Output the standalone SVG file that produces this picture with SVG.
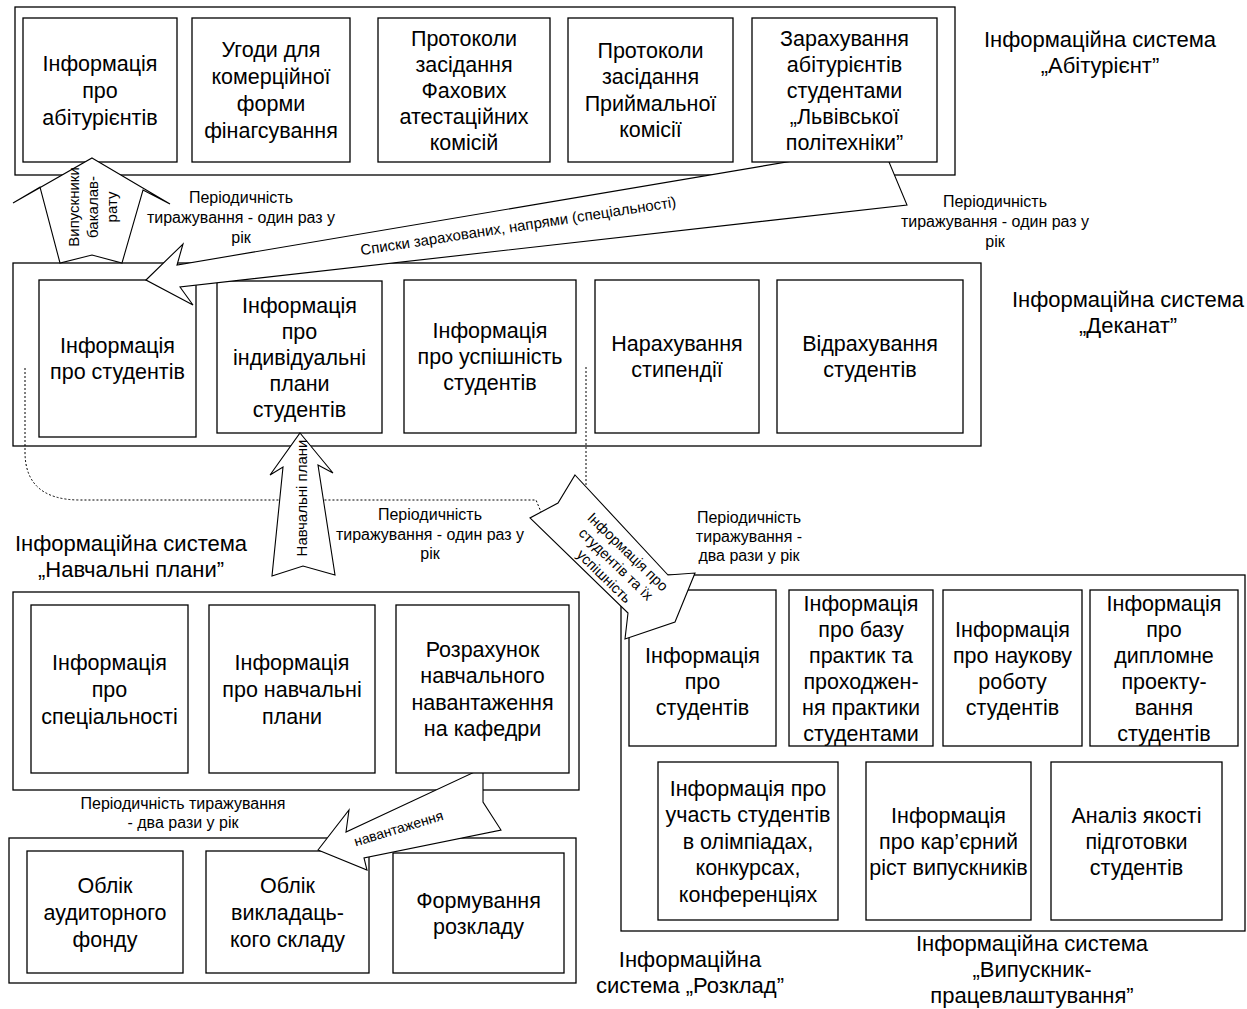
<svg xmlns="http://www.w3.org/2000/svg" width="1247" height="1009" viewBox="0 0 1247 1009">
<defs>
<style>
.c{fill:none;stroke:#000;stroke-width:1.3}
.b{fill:#fff;stroke:#000;stroke-width:1.3}
.a{fill:#fff;stroke:#000;stroke-width:1.1}
.d{fill:none;stroke:#000;stroke-width:1;stroke-dasharray:2 2}
text{font-family:"Liberation Sans",Arial,sans-serif;fill:#000;text-anchor:middle}
.t{font-size:21.5px}
.l{font-size:22px}
.s{font-size:16px}
.r{font-size:15px}
.q{font-size:14.5px}
</style>
</defs>
<rect width="1247" height="1009" fill="#fff"/>

<!-- systems (containers and labels) -->
<g id="sys-abiturient">
<rect class="c" x="15" y="7" width="940" height="168"/>
<text class="l"><tspan x="1100" y="47">Інформаційна система</tspan><tspan x="1100" y="73">„Абітурієнт”</tspan></text>
</g>
<g id="sys-dekanat">
<rect class="c" x="13" y="263" width="968" height="183"/>
<text class="l"><tspan x="1128" y="307">Інформаційна система</tspan><tspan x="1128" y="333">„Деканат”</tspan></text>
</g>
<g id="sys-plans">
<rect class="c" x="13" y="592" width="566" height="198"/>
<text class="l"><tspan x="131" y="551">Інформаційна система</tspan><tspan x="131" y="577">„Навчальні плани”</tspan></text>
</g>
<g id="sys-rozklad">
<rect class="c" x="9" y="838" width="567" height="145"/>
<text class="l"><tspan x="690" y="967">Інформаційна</tspan><tspan x="690" y="993">система „Розклад”</tspan></text>
</g>
<g id="sys-vypusknyk">
<rect class="c" x="621" y="575" width="624" height="356"/>
<text class="l"><tspan x="1032" y="951">Інформаційна система</tspan><tspan x="1032" y="977">„Випускник-</tspan><tspan x="1032" y="1003">працевлаштування”</tspan></text>
</g>

<!-- Абітурієнт nodes -->
<g id="n-abit-info">
<rect class="b" x="23" y="18" width="154" height="144"/>
<text class="t"><tspan x="100" y="70.5">Інформація</tspan><tspan x="100" y="97.5">про</tspan><tspan x="100" y="124.5">абітурієнтів</tspan></text>
</g>
<g id="n-ugody">
<rect class="b" x="192" y="18" width="158" height="144"/>
<text class="t"><tspan x="271" y="57">Угоди для</tspan><tspan x="271" y="84">комерційної</tspan><tspan x="271" y="111">форми</tspan><tspan x="271" y="138">фінагсування</tspan></text>
</g>
<g id="n-fakhovi">
<rect class="b" x="378" y="18" width="172" height="144"/>
<text class="t"><tspan x="464" y="45.5">Протоколи</tspan><tspan x="464" y="71.5">засідання</tspan><tspan x="464" y="97.5">Фахових</tspan><tspan x="464" y="123.5">атестаційних</tspan><tspan x="464" y="149.5">комісій</tspan></text>
</g>
<g id="n-pryimalna">
<rect class="b" x="568" y="18" width="165" height="144"/>
<text class="t"><tspan x="650.5" y="57.75">Протоколи</tspan><tspan x="650.5" y="84.25">засідання</tspan><tspan x="650.5" y="110.75">Приймальної</tspan><tspan x="650.5" y="137.25">комісії</tspan></text>
</g>

<!-- Деканат nodes -->
<g id="n-dek-students">
<rect class="b" x="39" y="280" width="157" height="157"/>
<text class="t"><tspan x="117.5" y="353">Інформація</tspan><tspan x="117.5" y="379">про студентів</tspan></text>
</g>
<g id="n-dek-plans">
<rect class="b" x="217" y="281" width="165" height="152"/>
<text class="t"><tspan x="299.5" y="312.5">Інформація</tspan><tspan x="299.5" y="338.5">про</tspan><tspan x="299.5" y="364.5">індивідуальні</tspan><tspan x="299.5" y="390.5">плани</tspan><tspan x="299.5" y="416.5">студентів</tspan></text>
</g>
<g id="n-dek-uspishnist">
<rect class="b" x="404" y="280" width="172" height="153"/>
<text class="t"><tspan x="490" y="338">Інформація</tspan><tspan x="490" y="364">про успішність</tspan><tspan x="490" y="390">студентів</tspan></text>
</g>
<g id="n-dek-stypendia">
<rect class="b" x="595" y="280" width="164" height="153"/>
<text class="t"><tspan x="677" y="351">Нарахування</tspan><tspan x="677" y="377">стипендії</tspan></text>
</g>
<g id="n-dek-vidrakh">
<rect class="b" x="777" y="280" width="186" height="153"/>
<text class="t"><tspan x="870" y="351">Відрахування</tspan><tspan x="870" y="377">студентів</tspan></text>
</g>

<!-- Навчальні плани nodes -->
<g id="n-np-spec">
<rect class="b" x="31" y="605" width="157" height="168"/>
<text class="t"><tspan x="109.5" y="669.5">Інформація</tspan><tspan x="109.5" y="696.5">про</tspan><tspan x="109.5" y="723.5">спеціальності</tspan></text>
</g>
<g id="n-np-plans">
<rect class="b" x="209" y="605" width="166" height="168"/>
<text class="t"><tspan x="292" y="669.5">Інформація</tspan><tspan x="292" y="696.5">про навчальні</tspan><tspan x="292" y="723.5">плани</tspan></text>
</g>

<!-- Розклад nodes -->
<g id="n-rz-fond">
<rect class="b" x="27" y="851" width="156" height="122"/>
<text class="t"><tspan x="105" y="892.5">Облік</tspan><tspan x="105" y="919.5">аудиторного</tspan><tspan x="105" y="946.5">фонду</tspan></text>
</g>
<g id="n-rz-vykl">
<rect class="b" x="206" y="851" width="163" height="122"/>
<text class="t"><tspan x="287.5" y="892.5">Облік</tspan><tspan x="287.5" y="919.5">викладаць-</tspan><tspan x="287.5" y="946.5">кого складу</tspan></text>
</g>
<g id="n-rz-form">
<rect class="b" x="393" y="853" width="171" height="120"/>
<text class="t"><tspan x="478.5" y="907.5">Формування</tspan><tspan x="478.5" y="933.5">розкладу</tspan></text>
</g>

<!-- Випускник nodes -->
<g id="n-vp-students">
<rect class="b" x="629" y="590" width="147" height="156"/>
<text class="t"><tspan x="702.5" y="662.5">Інформація</tspan><tspan x="702.5" y="688.5">про</tspan><tspan x="702.5" y="714.5">студентів</tspan></text>
</g>
<g id="n-vp-praktyka">
<rect class="b" x="789" y="590" width="144" height="156"/>
<text class="t"><tspan x="861" y="610.5">Інформація</tspan><tspan x="861" y="636.5">про базу</tspan><tspan x="861" y="662.5">практик та</tspan><tspan x="861" y="688.5">проходжен-</tspan><tspan x="861" y="714.5">ня практики</tspan><tspan x="861" y="740.5">студентами</tspan></text>
</g>
<g id="n-vp-nauka">
<rect class="b" x="943" y="590" width="139" height="156"/>
<text class="t"><tspan x="1012.5" y="636.5">Інформація</tspan><tspan x="1012.5" y="662.5">про наукову</tspan><tspan x="1012.5" y="688.5">роботу</tspan><tspan x="1012.5" y="714.5">студентів</tspan></text>
</g>
<g id="n-vp-dyplom">
<rect class="b" x="1090" y="590" width="148" height="156"/>
<text class="t"><tspan x="1164" y="610.5">Інформація</tspan><tspan x="1164" y="636.5">про</tspan><tspan x="1164" y="662.5">дипломне</tspan><tspan x="1164" y="688.5">проекту-</tspan><tspan x="1164" y="714.5">вання</tspan><tspan x="1164" y="740.5">студентів</tspan></text>
</g>
<g id="n-vp-olimp">
<rect class="b" x="658" y="762" width="180" height="158"/>
<text class="t"><tspan x="748" y="795.5">Інформація про</tspan><tspan x="748" y="822">участь студентів</tspan><tspan x="748" y="848.5">в олімпіадах,</tspan><tspan x="748" y="875">конкурсах,</tspan><tspan x="748" y="901.5">конференціях</tspan></text>
</g>
<g id="n-vp-kariera">
<rect class="b" x="866" y="762" width="165" height="158"/>
<text class="t"><tspan x="948.5" y="822.5">Інформація</tspan><tspan x="948.5" y="848.5">про кар’єрний</tspan><tspan x="948.5" y="874.5">ріст випускників</tspan></text>
</g>
<g id="n-vp-analiz">
<rect class="b" x="1051" y="762" width="171" height="158"/>
<text class="t"><tspan x="1136.5" y="822.5">Аналіз якості</tspan><tspan x="1136.5" y="848.5">підготовки</tspan><tspan x="1136.5" y="874.5">студентів</tspan></text>
</g>

<!-- connectors -->
<g id="connectors">
<path class="d" d="M25,368 V452 Q25,500 80,500 H536 L541,512"/>
<path class="d" d="M586,367 V487"/>

<polygon class="a" points="92,158 170,204 143,190 122,263 92,255 60,263 40,187 13,203"/>
<text class="r" transform="translate(92,207) rotate(-90)"><tspan x="0" y="-13">Випускники</tspan><tspan x="0" y="6">бакалав-</tspan><tspan x="0" y="25">рату</tspan></text>

<polygon class="a" points="146,280 183,244 177,265 840,153 884,150 907,205 180,287 193,305"/>
<text class="r" transform="translate(519,231) rotate(-8.7)" x="0" y="0">Списки зарахованих, напрями (спеціальності)</text>

<polygon class="a" points="300,433 333,473 318,465 335,575 303,566 272,576 283,467 270,475"/>
<text class="r" transform="translate(300,498) rotate(-90)" x="0" y="7">Навчальні плани</text>

<polygon class="a" points="575,475 668,575 695,573 675,622 625,639 628,613 530,518 558,503"/>
<text class="q" transform="translate(616,564) rotate(44)"><tspan x="0" y="-12">Інформація про</tspan><tspan x="0" y="5">студентів та їх</tspan><tspan x="0" y="22">успішність</tspan></text>

<polygon class="a" points="318,850 349,810 346,832 483,768 483,802 501,830 364,858 367,870"/>
<text class="q" style="font-size:14px" transform="translate(400,833) rotate(-17)" x="0" y="0">навантаження</text>

<text class="s"><tspan x="241" y="203">Періодичність</tspan><tspan x="241" y="223">тиражування - один раз у</tspan><tspan x="241" y="243">рік</tspan></text>
<text class="s"><tspan x="995" y="207">Періодичність</tspan><tspan x="995" y="227">тиражування - один раз у</tspan><tspan x="995" y="247">рік</tspan></text>
<text class="s"><tspan x="430" y="520">Періодичність</tspan><tspan x="430" y="540">тиражування - один раз у</tspan><tspan x="430" y="559">рік</tspan></text>
<text class="s"><tspan x="749" y="523">Періодичність</tspan><tspan x="749" y="542">тиражування -</tspan><tspan x="749" y="561">два рази у рік</tspan></text>
<text class="s"><tspan x="183" y="809">Періодичність тиражування</tspan><tspan x="183" y="828">- два рази у рік</tspan></text>
</g>

<!-- nodes drawn above the connector tails -->
<g id="n-zarakhuvannia">
<rect class="b" x="752" y="18" width="185" height="144"/>
<text class="t"><tspan x="844.5" y="45.5">Зарахування</tspan><tspan x="844.5" y="71.5">абітурієнтів</tspan><tspan x="844.5" y="97.5">студентами</tspan><tspan x="844.5" y="123.5">„Львівської</tspan><tspan x="844.5" y="149.5">політехніки”</tspan></text>
</g>
<g id="n-np-rozrakhunok">
<rect class="b" x="396" y="605" width="173" height="168"/>
<text class="t"><tspan x="482.5" y="656.75">Розрахунок</tspan><tspan x="482.5" y="683.25">навчального</tspan><tspan x="482.5" y="709.75">навантаження</tspan><tspan x="482.5" y="736.25">на кафедри</tspan></text>
</g>
</svg>
